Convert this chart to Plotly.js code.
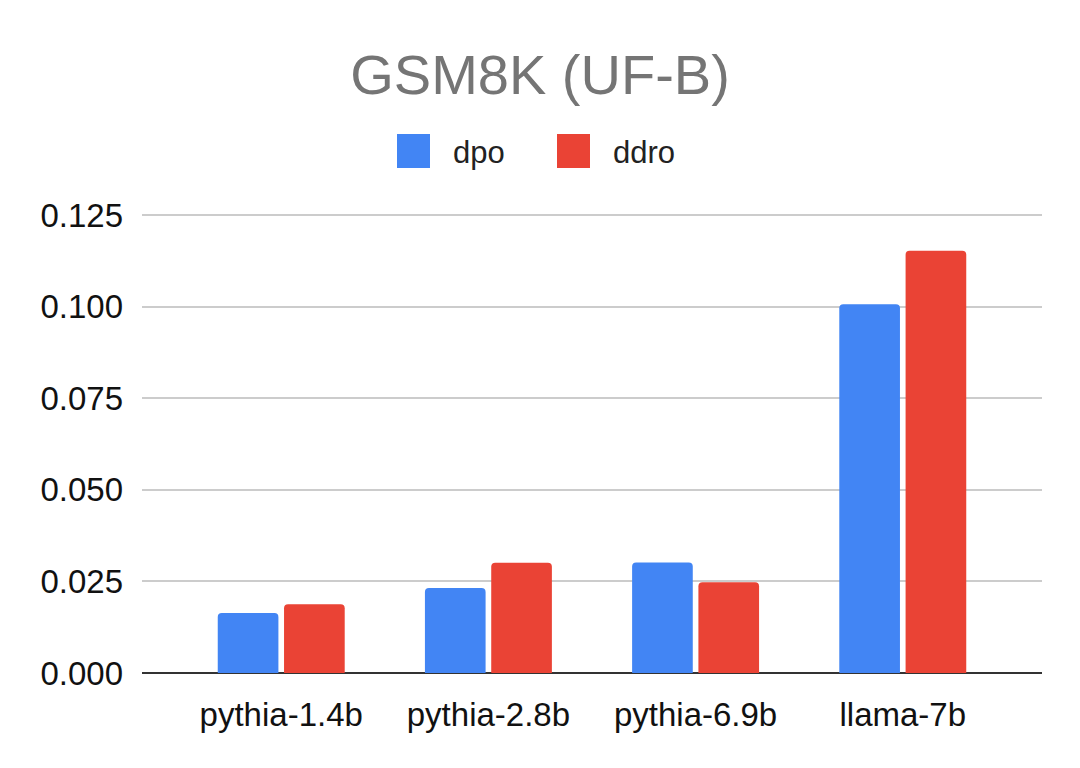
<!DOCTYPE html>
<html>
<head>
<meta charset="utf-8">
<script src="https://cdn.plot.ly/plotly-3.0.1.min.js"></script>
<style>html,body{margin:0;padding:0;background:#fff;}#chart{width:1080px;height:768px;}</style>
</head>
<body>
<div id="chart"></div>
<script>
var categories = ["pythia-1.4b", "pythia-2.8b", "pythia-6.9b", "llama-7b"];
var seriesNames = ["dpo", "ddro"];
var dpoValues = [0.0164, 0.0232, 0.0302, 0.1007];
var ddroValues = [0.0188, 0.0301, 0.0248, 0.1153];
var yTickVals = [0, 0.025, 0.05, 0.075, 0.1, 0.125];
var yTickText = ["0.000", "0.025", "0.050", "0.075", "0.100", "0.125"];
var colors = ["#4285F4", "#EA4335"];

var FONT = "'Liberation Sans', Arial, sans-serif";

var traces = [
  {type: "bar", name: seriesNames[0], x: categories, y: dpoValues,
   marker: {color: colors[0], cornerradius: 4}, showlegend: false},
  {type: "bar", name: seriesNames[1], x: categories, y: ddroValues,
   marker: {color: colors[1], cornerradius: 4}, showlegend: false}
];

var plotTop = 213, plotBottom = 673, plotLeft = 142, plotRight = 1042;
var plotH = plotBottom - plotTop, plotW = plotRight - plotLeft;

// custom legend (large squares like the reference)
var legendX = [397, 557];
var shapes = [];
var annotations = [];
for (var i = 0; i < seriesNames.length; i++) {
  shapes.push({type: "rect", xref: "paper", yref: "paper",
    x0: (legendX[i] - plotLeft) / plotW, x1: (legendX[i] + 33 - plotLeft) / plotW,
    y0: (plotBottom - 168) / plotH, y1: (plotBottom - 134) / plotH,
    fillcolor: colors[i], line: {width: 0}});
  annotations.push({xref: "paper", yref: "paper",
    x: (legendX[i] + 54 - plotLeft) / plotW, y: (plotBottom - 152) / plotH,
    xanchor: "left", yanchor: "middle", showarrow: false,
    text: seriesNames[i], font: {family: FONT, size: 31, color: "#222"}});
}

var layout = {
  width: 1080, height: 768,
  paper_bgcolor: "#fff", plot_bgcolor: "#fff",
  margin: {l: plotLeft, r: 1080 - plotRight, t: plotTop, b: 768 - plotBottom},
  title: {text: "GSM8K (UF-B)", x: 0.5, xanchor: "center", y: 0.903, yanchor: "middle",
    font: {family: FONT, size: 56, color: "#757575"}},
  barmode: "group", bargap: 0.36, bargroupgap: 0.085,
  xaxis: {type: "category", range: [-0.672, 3.672], showgrid: false, zeroline: false,
    showline: false, ticks: "", ticklabelstandoff: 19,
    tickfont: {family: FONT, size: 33, color: "#111"}},
  yaxis: {range: [0, 0.12563], tickvals: yTickVals, ticktext: yTickText,
    showgrid: true, gridcolor: "#cccccc", gridwidth: 2,
    zeroline: true, zerolinecolor: "#333333", zerolinewidth: 2,
    showline: false, ticks: "", ticklabelstandoff: 18,
    tickfont: {family: FONT, size: 33, color: "#111"}},
  shapes: shapes,
  annotations: annotations,
  showlegend: false
};

Plotly.newPlot("chart", traces, layout, {displayModeBar: false, staticPlot: true});
</script>
</body>
</html>
